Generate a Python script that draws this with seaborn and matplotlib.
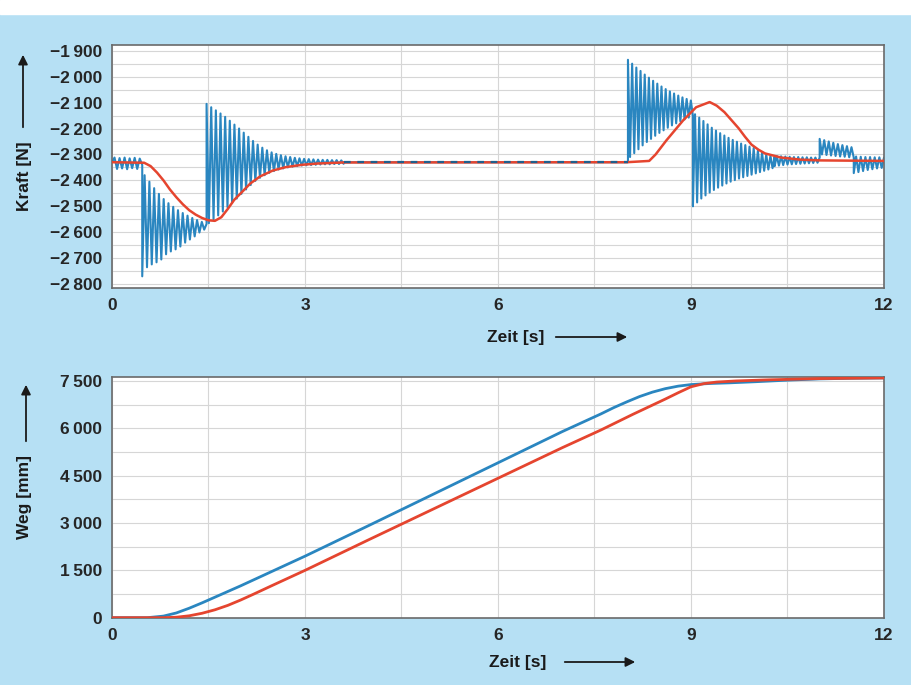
import numpy as np
import pandas as pd
import matplotlib
matplotlib.use("Agg")
import matplotlib.pyplot as plt
import seaborn as sns
from matplotlib.patches import Rectangle
from matplotlib.ticker import FuncFormatter, MultipleLocator

# --- Kraft: Zeitgrenzen der Abschnitte [s] ---
kraft_abschnitte = [0.0, 0.47, 1.47, 3.6, 8.02, 9.03, 10.3, 11.0, 11.53, 12.0]

# Umkehrpunkte der gemessenen Kraft (blau) je Abschnitt [N]
kraft_stillstand = [-2330, -2312, -2356, -2314, -2354, -2312, -2357, -2315, -2353, -2313, -2356, -2316, -2340]
anfahren_tief = [-2770, -2735, -2724, -2716, -2705, -2685, -2674, -2666, -2655, -2640, -2628, -2616, -2601, -2590]
anfahren_hoch = [-2380, -2405, -2430, -2452, -2472, -2488, -2502, -2515, -2526, -2536, -2545, -2553, -2560, -2568]
ausschwingen_hoch = [-2105, -2118, -2130, -2142, -2155, -2170, -2185, -2200, -2216, -2232,
                     -2248, -2262, -2274, -2284, -2292, -2298, -2303, -2307, -2310, -2313,
                     -2315, -2317, -2318, -2319, -2320, -2321, -2321, -2322, -2322, -2323]
ausschwingen_tief = [-2565, -2550, -2535, -2520, -2503, -2487, -2470, -2452, -2435, -2418,
                     -2402, -2390, -2380, -2371, -2364, -2358, -2354, -2350, -2347, -2345,
                     -2343, -2342, -2341, -2340, -2339, -2338, -2338, -2337, -2337, -2336]
kraft_fahrt = [-2330, -2330]
bremsen_hoch = [-1935, -1950, -1965, -1978, -1992, -2004, -2016, -2027, -2038, -2048,
                -2057, -2065, -2073, -2080, -2086, -2092]
bremsen_tief = [-2310, -2295, -2280, -2265, -2252, -2240, -2228, -2217, -2207, -2197,
                -2188, -2180, -2172, -2165, -2158, -2152]
halt_tief = [-2500, -2485, -2470, -2458, -2447, -2437, -2428, -2420, -2412, -2405,
             -2399, -2393, -2388, -2383, -2378, -2373, -2368, -2363, -2358, -2353]
halt_hoch = [-2145, -2158, -2171, -2184, -2197, -2208, -2218, -2227, -2236, -2244,
             -2251, -2258, -2264, -2270, -2275, -2285, -2293, -2300, -2305, -2309]
nach_tief = [-2345, -2343, -2341, -2339, -2338, -2337, -2336, -2335, -2334, -2333, -2332]
nach_hoch = [-2306, -2307, -2308, -2309, -2310, -2310, -2311, -2311, -2312, -2312, -2312]
stoss_hoch = [-2240, -2245, -2250, -2255, -2260, -2264, -2268, -2272]
stoss_tief = [-2300, -2302, -2304, -2306, -2308, -2309, -2311, -2312]
ende_tief = [-2372, -2368, -2364, -2360, -2357, -2354, -2352]
ende_hoch = [-2308, -2309, -2310, -2310, -2311, -2311, -2312]

# Sollkraft (rot)
soll_t = [0.0, 0.5, 0.6, 0.7, 0.8, 0.9, 1.0, 1.1, 1.2, 1.3, 1.4, 1.5, 1.6, 1.7, 1.8, 1.9,
          2.0, 2.15, 2.3, 2.5, 2.7, 2.95, 3.2, 3.6, 8.0, 8.35, 8.45, 8.62, 8.88, 9.08,
          9.29, 9.4, 9.52, 9.63, 9.74, 9.84, 9.94, 10.05, 10.15, 10.4, 10.7, 11.0, 12.0]
soll_kraft = [-2330, -2332, -2345, -2370, -2400, -2435, -2465, -2492, -2515, -2532, -2545,
              -2554, -2556, -2542, -2510, -2475, -2450, -2412, -2385, -2362, -2349, -2340,
              -2335, -2331, -2330, -2325, -2300, -2245, -2168, -2118, -2098, -2112, -2137,
              -2168, -2199, -2232, -2262, -2282, -2296, -2312, -2320, -2323, -2325]

# --- Weg ---
weg_ist_t = [0.0, 0.55, 0.8, 1.0, 1.2, 1.4, 1.6, 1.8, 2.0, 3.0, 4.0, 5.0, 6.0, 7.0, 7.6,
             7.8, 8.0, 8.2, 8.4, 8.6, 8.8, 9.0, 9.3, 9.6, 10.0, 10.5, 11.0, 11.5, 12.0]
weg_ist = [0, 0, 50, 150, 300, 470, 650, 830, 1010, 1950, 2930, 3920, 4910, 5900, 6460,
           6660, 6840, 7010, 7150, 7260, 7340, 7390, 7425, 7445, 7480, 7530, 7570, 7590, 7600]
weg_soll_t = [0.0, 0.8, 1.0, 1.2, 1.4, 1.6, 1.8, 2.0, 2.2, 2.5, 3.0, 4.0, 5.0, 6.0, 7.0,
              7.6, 8.1, 8.6, 8.8, 9.0, 9.2, 9.4, 9.7, 10.2, 11.0, 12.0]
weg_soll = [0, 0, 15, 60, 140, 250, 390, 560, 745, 1030, 1500, 2480, 3450, 4420, 5390,
            5950, 6450, 6930, 7130, 7320, 7420, 7470, 7505, 7540, 7580, 7600]

BLAU = "#2a86c0"
ROT = "#e5452f"
GRID = "#d6d6d6"
HINTERGRUND = "#b6e0f4"


def zickzack(a, b):
    return [v for paar in zip(a, b) for v in paar]


segmente = [
    kraft_stillstand,
    zickzack(anfahren_tief, anfahren_hoch),
    zickzack(ausschwingen_hoch, ausschwingen_tief),
    kraft_fahrt,
    zickzack(bremsen_hoch, bremsen_tief),
    zickzack(halt_tief, halt_hoch),
    zickzack(nach_tief, nach_hoch),
    zickzack(stoss_hoch, stoss_tief),
    zickzack(ende_tief, ende_hoch),
]
teile = []
for i, werte in enumerate(segmente):
    t = np.linspace(kraft_abschnitte[i], kraft_abschnitte[i + 1], len(werte))
    teile.append(pd.DataFrame({"t": t, "F": werte, "seg": i}))
kraft_df = pd.concat(teile, ignore_index=True)

sns.set_style("white")
plt.rcParams["font.family"] = ["Liberation Sans Narrow", "Liberation Sans", "DejaVu Sans"]
plt.rcParams["font.weight"] = "bold"

fig = plt.figure(figsize=(9.12, 6.85), dpi=100, facecolor=HINTERGRUND)
fig.patches.append(Rectangle((0, 1 - 14 / 685), 1, 14 / 685, transform=fig.transFigure,
                             color="white", zorder=0))
ax1 = fig.add_axes([112 / 912, 1 - 288 / 685, 772 / 912, 243 / 685])
ax2 = fig.add_axes([112 / 912, 1 - 618 / 685, 772 / 912, 241 / 685])


def tausender(v, pos):
    s = f"{abs(int(round(v))):,}".replace(",", "\u2009")
    return ("\u2212" + s) if v < 0 else s


# oberes Diagramm: Kraft
sns.lineplot(data=kraft_df, x="t", y="F", ax=ax1, sort=False, estimator=None,
             color=BLAU, lw=1.5, zorder=2)
sns.lineplot(x=soll_t, y=soll_kraft, ax=ax1, sort=False, estimator=None,
             color=ROT, lw=1.8, zorder=3)
fahrt = kraft_df[kraft_df["seg"] == 3]
ax1.plot(fahrt["t"], fahrt["F"], color="#1f5f8c", lw=1.6, ls=(0, (3, 3)), zorder=4)
ax1.set_ylim(-2815, -1878)
ax1.yaxis.set_major_locator(MultipleLocator(100))
ax1.yaxis.set_minor_locator(MultipleLocator(50))

# unteres Diagramm: Weg
sns.lineplot(x=weg_ist_t, y=weg_ist, ax=ax2, sort=False, estimator=None,
             color=BLAU, lw=2.0, zorder=2)
sns.lineplot(x=weg_soll_t, y=weg_soll, ax=ax2, sort=False, estimator=None,
             color=ROT, lw=2.0, zorder=3)
ax2.set_ylim(-10, 7630)
ax2.yaxis.set_major_locator(MultipleLocator(1500))
ax2.yaxis.set_minor_locator(MultipleLocator(750))

for ax in (ax1, ax2):
    ax.set_facecolor("white")
    ax.set_xlim(0, 12)
    ax.xaxis.set_major_locator(MultipleLocator(3))
    ax.xaxis.set_minor_locator(MultipleLocator(1.5))
    ax.grid(True, which="both", color=GRID, lw=0.8)
    ax.set_axisbelow(True)
    ax.tick_params(which="both", length=0, labelsize=12.5, pad=7)
    ax.yaxis.set_major_formatter(FuncFormatter(tausender))
    for sp in ax.spines.values():
        sp.set_color("#6a6a6a")
        sp.set_linewidth(1.2)
    ax.set_xlabel("")
    ax.set_ylabel("")
    for lab in ax.get_xticklabels() + ax.get_yticklabels():
        lab.set_fontweight("bold")


def px(x, y):
    return (x / 912, 1 - y / 685)


def pfeil(start, ziel):
    fig.add_artist(matplotlib.patches.FancyArrowPatch(
        px(*start), px(*ziel), transform=fig.transFigure, arrowstyle="-|>",
        mutation_scale=14, lw=1.3, color="#1a1a1a"))


schrift = dict(fontsize=12.5, fontweight="bold", color="#1a1a1a", ha="center", va="center")
fig.text(*px(25, 176), "Kraft [N]", rotation=90, **schrift)
pfeil((23, 130), (23, 52))
fig.text(*px(25, 497), "Weg [mm]", rotation=90, **schrift)
pfeil((26, 444), (26, 382))
fig.text(*px(516, 337), "Zeit [s]", **schrift)
pfeil((553, 337), (630, 337))
fig.text(*px(518, 662), "Zeit [s]", **schrift)
pfeil((562, 662), (638, 662))

fig.savefig("out.png", dpi=100, facecolor=fig.get_facecolor())
